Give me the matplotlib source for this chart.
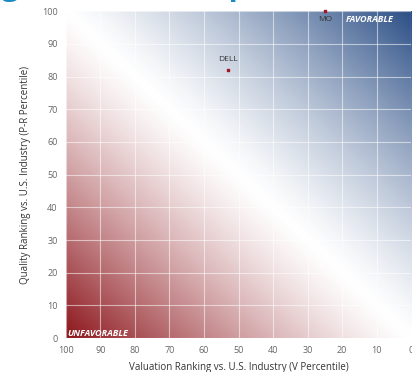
import numpy as np
import matplotlib
matplotlib.use("Agg")
import matplotlib.pyplot as plt
from matplotlib.colors import LinearSegmentedColormap

# data
tickers = ["DELL", "MO"]
valuation = [53, 25]
quality = [82, 100]
ticks = [0, 10, 20, 30, 40, 50, 60, 70, 80, 90, 100]

plt.rcParams['font.family'] = ['Open Sans', 'DejaVu Sans']

fig = plt.figure(figsize=(4.12, 3.72), dpi=100)
ax = fig.add_axes([0.160, 0.091, 0.838, 0.879])

# diagonal red -> white -> blue background
cmap = LinearSegmentedColormap.from_list("rb", ["#8c161c", "#ffffff", "#2c4f86"])
v = np.linspace(100, 0, 400)
q = np.linspace(0, 100, 400)
V, Q = np.meshgrid(v, q)
t = (Q - V) / 100.0
t = np.sign(t) * np.abs(t) ** 1.25
ax.imshow(t, extent=[100, 0, 0, 100], origin="lower", cmap=cmap, vmin=-1, vmax=1,
          aspect="auto", interpolation="bilinear", zorder=0)

ax.set_xlim(100, 0)
ax.set_ylim(0, 100)
ax.set_xticks(ticks)
ax.set_yticks(ticks)
ax.grid(True, color="white", linewidth=0.8, alpha=0.55, zorder=1)
ax.set_axisbelow(False)
for s in ax.spines.values():
    s.set_visible(False)
ax.tick_params(length=0, labelsize=6.5, labelcolor="#666666", pad=6)

ax.scatter(valuation, quality, s=4, marker="s", color="#a01828", zorder=3, clip_on=False)
ax.annotate(tickers[0], (valuation[0], quality[0]), xytext=(0, 5), textcoords="offset points",
            ha="center", va="bottom", fontsize=6, color="#333333")
ax.annotate(tickers[1], (valuation[1], quality[1]), xytext=(0, -3.5), textcoords="offset points",
            ha="center", va="top", fontsize=6, color="#333333")

ax.text(12, 97.5, "FAVORABLE", ha="center", va="center", fontsize=6.5, color="white",
        fontweight="bold", style="italic")
ax.text(99.5, 1.5, "UNFAVORABLE", ha="left", va="center", fontsize=6.5, color="white",
        fontweight="bold", style="italic")

ax.set_xlabel("Valuation Ranking vs. U.S. Industry (V Percentile)", fontsize=7, color="#333333",
              labelpad=5)
ax.set_ylabel("Quality Ranking vs. U.S. Industry (P-R Percentile)", fontsize=7, color="#333333",
              labelpad=8)

# cropped title above the figure, only descenders show
title = "Ranking Valuation Map"
renderer = fig.canvas.get_renderer()
probe = fig.text(0, 0, "Rankin", fontsize=22, fontweight="bold")
w = probe.get_window_extent(renderer).width
probe.remove()
fig.text((2 - w) / 412, 1.013, title, fontsize=22, color="#1a8ac6", fontweight="bold",
         ha="left", va="baseline")

fig.savefig("out.png", dpi=100)
